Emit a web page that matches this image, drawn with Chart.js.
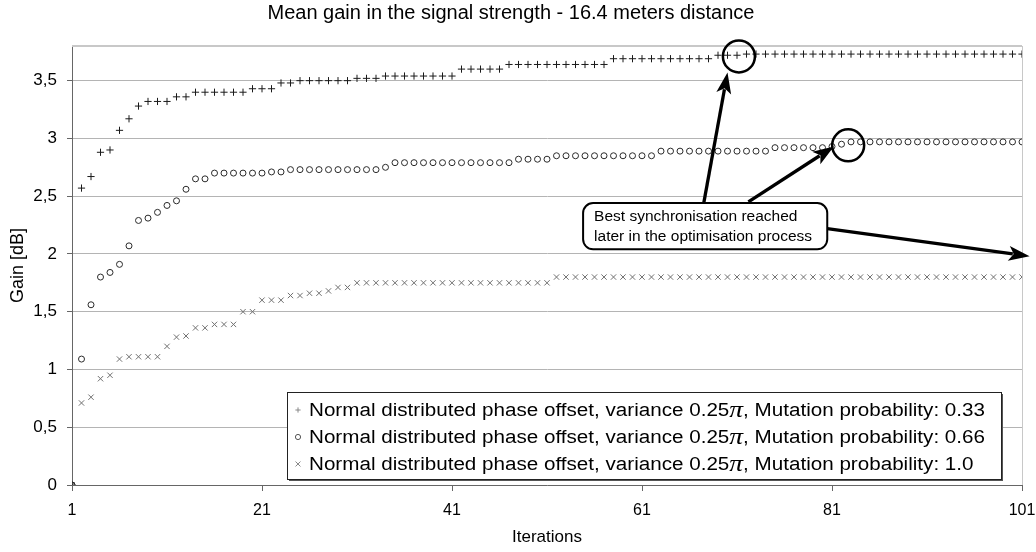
<!DOCTYPE html>
<html>
<head>
<meta charset="utf-8">
<title>Mean gain in the signal strength</title>
<script src="https://cdn.jsdelivr.net/npm/chart.js@4.4.1/dist/chart.umd.min.js"></script>
<style>
  html, body { margin: 0; padding: 0; background: #fff; }
  #wrap { width: 1036px; height: 552px; position: relative; }
</style>
</head>
<body>
<div id="wrap"><canvas id="gain"></canvas></div>
<script>
// Datos (ganancia media por iteración)
const iterations = Array.from({ length: 101 }, (_, i) => i + 1);
const xTicks = [1, 21, 41, 61, 81, 101];
const yTicks = [0, 0.5, 1, 1.5, 2, 2.5, 3, 3.5];

const seriesLabels = [
  'Normal distributed phase offset, variance 0.25π, Mutation probability: 0.33',
  'Normal distributed phase offset, variance 0.25π, Mutation probability: 0.66',
  'Normal distributed phase offset, variance 0.25π, Mutation probability: 1.0'
];

const gainP033 = [
  0, 2.57, 2.67, 2.88, 2.90, 3.07, 3.17, 3.28, 3.32, 3.32,
  3.32, 3.36, 3.36, 3.40, 3.40, 3.40, 3.40, 3.40, 3.40, 3.43,
  3.43, 3.43, 3.48, 3.48, 3.50, 3.50, 3.50, 3.50, 3.50, 3.50,
  3.52, 3.52, 3.52, 3.54, 3.54, 3.54, 3.54, 3.54, 3.54, 3.54,
  3.54, 3.60, 3.60, 3.60, 3.60, 3.60, 3.64, 3.64, 3.64, 3.64,
  3.64, 3.64, 3.64, 3.64, 3.64, 3.64, 3.64, 3.69, 3.69, 3.69,
  3.69, 3.69, 3.69, 3.69, 3.69, 3.69, 3.69, 3.69, 3.72, 3.72,
  3.72, 3.73, 3.73, 3.73, 3.73, 3.73, 3.73, 3.73, 3.73, 3.73,
  3.73, 3.73, 3.73, 3.73, 3.73, 3.73, 3.73, 3.73, 3.73, 3.73,
  3.73, 3.73, 3.73, 3.73, 3.73, 3.73, 3.73, 3.73, 3.73, 3.73,
  3.73
];

const gainP066 = [
  0, 1.09, 1.56, 1.80, 1.84, 1.91, 2.07, 2.29, 2.31, 2.36,
  2.42, 2.46, 2.56, 2.65, 2.65, 2.70, 2.70, 2.70, 2.70, 2.70,
  2.70, 2.71, 2.71, 2.73, 2.73, 2.73, 2.73, 2.73, 2.73, 2.73,
  2.73, 2.73, 2.73, 2.75, 2.79, 2.79, 2.79, 2.79, 2.79, 2.79,
  2.79, 2.79, 2.79, 2.79, 2.79, 2.79, 2.79, 2.82, 2.82, 2.82,
  2.82, 2.85, 2.85, 2.85, 2.85, 2.85, 2.85, 2.85, 2.85, 2.85,
  2.85, 2.85, 2.89, 2.89, 2.89, 2.89, 2.89, 2.89, 2.89, 2.89,
  2.89, 2.89, 2.89, 2.89, 2.92, 2.92, 2.92, 2.92, 2.92, 2.92,
  2.93, 2.95, 2.97, 2.97, 2.97, 2.97, 2.97, 2.97, 2.97, 2.97,
  2.97, 2.97, 2.97, 2.97, 2.97, 2.97, 2.97, 2.97, 2.97, 2.97,
  2.97
];

const gainP100 = [
  0, 0.71, 0.76, 0.92, 0.95, 1.09, 1.11, 1.11, 1.11, 1.11,
  1.20, 1.28, 1.29, 1.36, 1.36, 1.39, 1.39, 1.39, 1.50, 1.50,
  1.60, 1.60, 1.60, 1.64, 1.64, 1.66, 1.66, 1.68, 1.71, 1.71,
  1.75, 1.75, 1.75, 1.75, 1.75, 1.75, 1.75, 1.75, 1.75, 1.75,
  1.75, 1.75, 1.75, 1.75, 1.75, 1.75, 1.75, 1.75, 1.75, 1.75,
  1.75, 1.80, 1.80, 1.80, 1.80, 1.80, 1.80, 1.80, 1.80, 1.80,
  1.80, 1.80, 1.80, 1.80, 1.80, 1.80, 1.80, 1.80, 1.80, 1.80,
  1.80, 1.80, 1.80, 1.80, 1.80, 1.80, 1.80, 1.80, 1.80, 1.80,
  1.80, 1.80, 1.80, 1.80, 1.80, 1.80, 1.80, 1.80, 1.80, 1.80,
  1.80, 1.80, 1.80, 1.80, 1.80, 1.80, 1.80, 1.80, 1.80, 1.80,
  1.80
];

// Nota con flechas (coordenadas en unidades de datos)
const callout = {
  text: ['Best synchronisation reached', 'later in the optimisation process'],
  box: [54.8, 2.44, 80.5, 2.04],
  arrows: [[67.5, 2.44, 70.0, 3.57], [72.2, 2.45, 81.2, 2.93], [80.5, 2.22, 101.8, 1.98]],
  rings: [[71.2, 3.71], [82.7, 2.94]]
};

const FONT = "'Liberation Sans', Arial, Helvetica, sans-serif";
const fmt = v => String(v).replace('.', ',');

function toPoints(values) {
  return values.map((v, i) => ({ x: iterations[i], y: v }));
}

// marco gris arriba y a la derecha del área de trazado
const frame = {
  id: 'frame',
  beforeDatasetsDraw(chart) {
    const { ctx, chartArea: a } = chart;
    ctx.save();
    ctx.strokeStyle = '#c8c8c8';
    ctx.lineWidth = 2;
    ctx.beginPath();
    ctx.moveTo(a.left, a.top); ctx.lineTo(a.right, a.top);
    ctx.stroke();
    ctx.lineWidth = 1;
    ctx.beginPath();
    ctx.moveTo(a.right + 0.5, a.top); ctx.lineTo(a.right + 0.5, a.bottom);
    ctx.stroke();
    ctx.restore();
  }
};

function arrow(ctx, x0, y0, x1, y1) {
  const ang = Math.atan2(y1 - y0, x1 - x0);
  const len = 21, half = 7.5;
  const bx = x1 - Math.cos(ang) * len, by = y1 - Math.sin(ang) * len;
  ctx.beginPath();
  ctx.moveTo(x0, y0); ctx.lineTo(bx + Math.cos(ang) * 4, by + Math.sin(ang) * 4);
  ctx.stroke();
  ctx.beginPath();
  ctx.moveTo(x1, y1);
  ctx.lineTo(bx + Math.sin(ang) * half, by - Math.cos(ang) * half);
  ctx.lineTo(bx + Math.cos(ang) * 5, by + Math.sin(ang) * 5);
  ctx.lineTo(bx - Math.sin(ang) * half, by + Math.cos(ang) * half);
  ctx.closePath();
  ctx.fill();
}

const notes = {
  id: 'notes',
  afterDraw(chart) {
    const { ctx, scales: { x, y } } = chart;
    ctx.save();
    ctx.strokeStyle = '#000';
    ctx.fillStyle = '#000';
    ctx.lineWidth = 3.3;
    callout.arrows.forEach(([a, b, c, d]) => {
      arrow(ctx, x.getPixelForValue(a), y.getPixelForValue(b), x.getPixelForValue(c), y.getPixelForValue(d));
    });
    ctx.lineWidth = 2.5;
    callout.rings.forEach(([a, b]) => {
      ctx.beginPath();
      ctx.arc(x.getPixelForValue(a), y.getPixelForValue(b), 16, 0, Math.PI * 2);
      ctx.stroke();
    });
    // caja redondeada
    const [bx0, by0, bx1, by1] = callout.box;
    const l = x.getPixelForValue(bx0), t = y.getPixelForValue(by0);
    const r = x.getPixelForValue(bx1), b = y.getPixelForValue(by1);
    ctx.lineWidth = 2;
    ctx.beginPath();
    ctx.roundRect(l, t, r - l, b - t, 10);
    ctx.fillStyle = '#fff';
    ctx.fill();
    ctx.stroke();
    ctx.fillStyle = '#000';
    ctx.font = '15.5px ' + FONT;
    ctx.textBaseline = 'middle';
    ctx.textAlign = 'left';
    const mid = (t + b) / 2;
    ctx.fillText(callout.text[0], l + 11, mid - 10);
    ctx.fillText(callout.text[1], l + 11, mid + 10);
    ctx.restore();
  }
};

// leyenda dibujada dentro del área, con π en fuente serif
function labelRun(ctx, text, draw) {
  const parts = text.split('π');
  let cx = 0;
  parts.forEach((p, i) => {
    ctx.font = '18px ' + FONT;
    if (draw) ctx.fillText(p, cx, 0);
    cx += ctx.measureText(p).width;
    if (i < parts.length - 1) {
      ctx.font = 'italic 24px "Liberation Serif", "Times New Roman", serif';
      if (draw) ctx.fillText('π', cx, 0);
      cx += ctx.measureText('π').width;
    }
  });
  return cx;
}

const boxLegend = {
  id: 'boxLegend',
  afterDraw(chart) {
    const { ctx, chartArea: a } = chart;
    const sets = chart.data.datasets;
    ctx.save();
    const natural = labelRun(ctx, sets[0].label, false);
    const textW = 676, sx = textW / natural;
    const right = a.right - 21, bottom = a.bottom - 6;
    const w = 22 + textW + 16, h = 87;
    const left = right - w, top = bottom - h;
    ctx.fillStyle = '#555';
    ctx.fillRect(left + 2, top + 2, w, h);
    ctx.fillStyle = '#fff';
    ctx.fillRect(left, top, w, h);
    ctx.strokeStyle = '#222';
    ctx.lineWidth = 1;
    ctx.strokeRect(left + 0.5, top + 0.5, w, h);
    sets.forEach((ds, i) => {
      const cy = top + 18 + i * 27;
      ctx.strokeStyle = ds.legendColor;
      ctx.fillStyle = 'rgba(0,0,0,0)';
      ctx.lineWidth = 1;
      Chart.helpers.drawPoint(ctx, { pointStyle: ds.pointStyle, radius: i === 2 ? 3.5 : 2.6, rotation: 0, borderWidth: 1 }, left + 11, cy);
      ctx.fillStyle = '#000';
      ctx.textBaseline = 'middle';
      ctx.textAlign = 'left';
      ctx.save();
      ctx.translate(left + 22, cy + 1);
      ctx.scale(sx, 1);
      labelRun(ctx, ds.label, true);
      ctx.restore();
    });
    ctx.restore();
  }
};

const ctx = document.getElementById('gain');
new Chart(ctx, {
  type: 'scatter',
  data: {
    datasets: [
      { label: seriesLabels[0], data: toPoints(gainP033), pointStyle: 'cross', pointRadius: 3.6,
        borderColor: '#1a1a1a', backgroundColor: 'rgba(0,0,0,0)', borderWidth: 1, legendColor: '#888' },
      { label: seriesLabels[1], data: toPoints(gainP066), pointStyle: 'circle', pointRadius: 3,
        borderColor: '#2a2a2a', backgroundColor: 'rgba(0,0,0,0)', borderWidth: 1, legendColor: '#555' },
      { label: seriesLabels[2], data: toPoints(gainP100), pointStyle: 'crossRot', pointRadius: 3.8,
        borderColor: '#707070', backgroundColor: 'rgba(0,0,0,0)', borderWidth: 1, legendColor: '#888' }
    ]
  },
  options: {
    responsive: true,
    maintainAspectRatio: false,
    animation: false,
    layout: { padding: { top: 0, right: 14, bottom: 0, left: 0 } },
    plugins: {
      legend: { display: false },
      tooltip: { enabled: false },
      title: {
        display: true,
        text: 'Mean gain in the signal strength - 16.4 meters distance',
        color: '#000',
        font: { family: FONT, size: 20, weight: 'normal' },
        padding: { top: 1, bottom: 21 }
      }
    },
    scales: {
      x: {
        type: 'linear',
        min: 1, max: 101,
        afterBuildTicks: s => { s.ticks = xTicks.map(v => ({ value: v })); },
        afterFit: s => { s.height = 67; s.paddingRight = 0; },
        grid: { drawOnChartArea: false, drawTicks: true, tickLength: 6, tickColor: '#666' },
        border: { color: '#666', width: 1 },
        ticks: { color: '#000', font: { family: FONT, size: 16 }, padding: 10, maxRotation: 0 },
        title: { display: true, text: 'Iterations', color: '#000', font: { family: FONT, size: 17 }, padding: { top: 0, bottom: 4 } }
      },
      y: {
        min: 0, max: 3.8,
        ticks: { stepSize: 0.5, color: '#000', font: { family: FONT, size: 17 }, padding: 10, callback: v => fmt(v) },
        afterBuildTicks: s => { s.ticks = yTicks.map(v => ({ value: v })); },
        afterFit: s => { s.width = 72; },
        grid: { color: '#b4b4b4', tickColor: '#666', tickLength: 5, drawTicks: true },
        border: { color: '#666', width: 1 },
        title: { display: true, text: 'Gain [dB]', color: '#000', font: { family: FONT, size: 18 }, padding: { top: 7, bottom: 0 } }
      }
    }
  },
  plugins: [frame, notes, boxLegend]
});
</script>
</body>
</html>
